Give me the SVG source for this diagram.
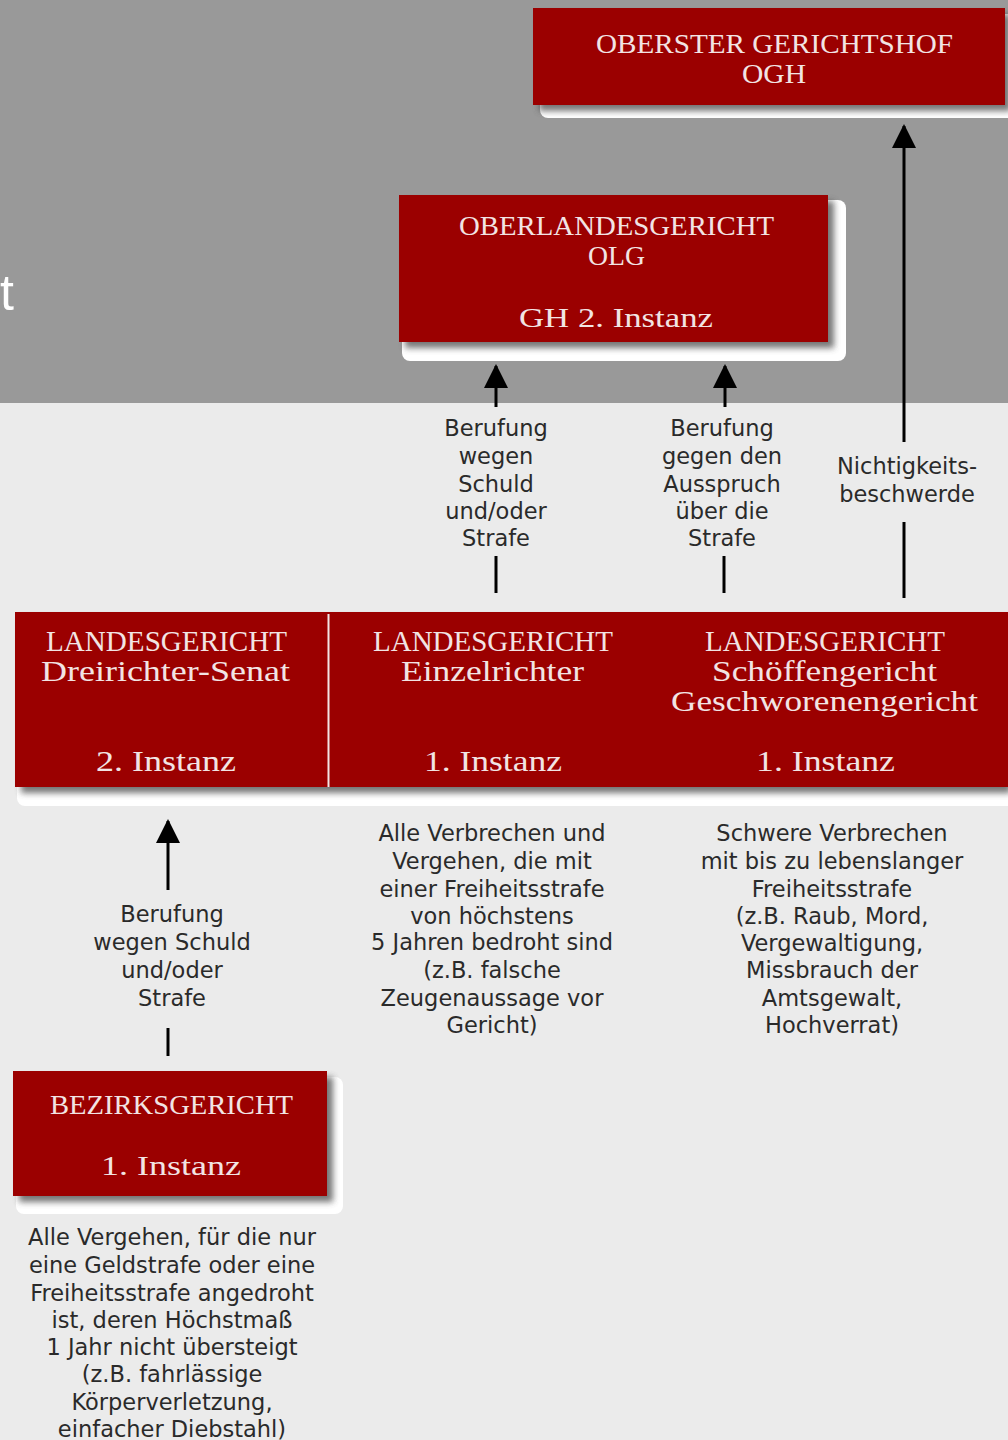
<svg xmlns="http://www.w3.org/2000/svg" width="1008" height="1440" viewBox="0 0 1008 1440">
<style>
.red{fill:#9b0000}
.frame{fill:#ffffff}
.sh{fill:#4a4a4a;opacity:0.75;filter:url(#blur)}
.hd{font-family:"Liberation Serif","Times New Roman",serif;fill:#f2e4e4;text-anchor:middle}
.bt{font-family:"DejaVu Sans",Verdana,sans-serif;font-size:22.5px;fill:#2a2a2a;text-anchor:middle}
.ln{stroke:#000;stroke-width:3;fill:none}
</style>
<defs>
<filter id="blur" x="-10%" y="-20%" width="120%" height="140%"><feGaussianBlur stdDeviation="3"/></filter>
<marker id="ah" viewBox="0 0 24 24" markerWidth="24" markerHeight="24" refX="22" refY="12" orient="auto" markerUnits="userSpaceOnUse"><path d="M0,0 L24,12 L0,24 Z" fill="#000"/></marker>
</defs>
<rect x="0" y="0" width="1008" height="1440" fill="#ebebeb"/>
<rect x="0" y="0" width="1008" height="403" fill="#999999"/>
<text x="0" y="310" font-family="'Liberation Sans',Arial,sans-serif" font-size="50" fill="#ffffff">t</text>

<g id="connectors">
<line class="ln" x1="496" y1="407" x2="496" y2="366" marker-end="url(#ah)"/>
<line class="ln" x1="496" y1="556" x2="496" y2="593"/>
<line class="ln" x1="725" y1="407" x2="725" y2="366" marker-end="url(#ah)"/>
<line class="ln" x1="724" y1="556" x2="724" y2="593"/>
<line class="ln" x1="904" y1="442" x2="904" y2="126" marker-end="url(#ah)"/>
<line class="ln" x1="904" y1="522" x2="904" y2="598"/>
<line class="ln" x1="168" y1="890" x2="168" y2="821" marker-end="url(#ah)"/>
<line class="ln" x1="168" y1="1028" x2="168" y2="1056"/>
</g>

<g id="label-berufung-olg1">
<text class="bt" x="496" y="436">Berufung</text>
<text class="bt" x="496" y="464">wegen</text>
<text class="bt" x="496" y="492">Schuld</text>
<text class="bt" x="496" y="519">und/oder</text>
<text class="bt" x="496" y="546">Strafe</text>
</g>
<g id="label-berufung-olg2">
<text class="bt" x="722" y="436">Berufung</text>
<text class="bt" x="722" y="464">gegen den</text>
<text class="bt" x="722" y="492">Ausspruch</text>
<text class="bt" x="722" y="519">über die</text>
<text class="bt" x="722" y="546">Strafe</text>
</g>
<g id="label-nichtigkeit">
<text class="bt" x="907" y="474">Nichtigkeits-</text>
<text class="bt" x="907" y="502">beschwerde</text>
</g>
<g id="label-berufung-lg">
<text class="bt" x="172" y="922">Berufung</text>
<text class="bt" x="172" y="950">wegen Schuld</text>
<text class="bt" x="172" y="978">und/oder</text>
<text class="bt" x="172" y="1006">Strafe</text>
</g>

<g id="ogh">
<rect class="frame" x="540" y="14" width="480" height="104" rx="8"/>
<rect class="sh" x="539" y="14" width="472" height="97"/>
<rect class="red" x="533" y="8" width="472" height="97"/>
<text class="hd" x="774.5" y="53" font-size="27" textLength="357" lengthAdjust="spacingAndGlyphs">OBERSTER GERICHTSHOF</text>
<text class="hd" x="774" y="83" font-size="27" textLength="64" lengthAdjust="spacingAndGlyphs">OGH</text>
</g>

<g id="olg">
<rect class="frame" x="402" y="200" width="444" height="161" rx="8"/>
<rect class="sh" x="405" y="201" width="429" height="147"/>
<rect class="red" x="399" y="195" width="429" height="147"/>
<text class="hd" x="616.5" y="235" font-size="27" textLength="315" lengthAdjust="spacingAndGlyphs">OBERLANDESGERICHT</text>
<text class="hd" x="616.5" y="265" font-size="27" textLength="57" lengthAdjust="spacingAndGlyphs">OLG</text>
<text class="hd" x="616" y="327" font-size="27" textLength="194" lengthAdjust="spacingAndGlyphs">GH 2. Instanz</text>
</g>

<g id="landesgericht">
<rect class="frame" x="17" y="618" width="1000" height="188" rx="8"/>
<rect class="sh" x="21" y="618" width="990" height="175"/>
<rect class="red" x="15" y="612" width="993" height="175"/>
<line x1="328.5" y1="614" x2="328.5" y2="787" stroke="#f2e4e4" stroke-width="2"/>
<text class="hd" x="166.5" y="651" font-size="30" textLength="241" lengthAdjust="spacingAndGlyphs">LANDESGERICHT</text>
<text class="hd" x="165.5" y="681" font-size="30" textLength="249" lengthAdjust="spacingAndGlyphs">Dreirichter-Senat</text>
<text class="hd" x="166" y="771" font-size="30" textLength="140" lengthAdjust="spacingAndGlyphs">2. Instanz</text>
<text class="hd" x="493" y="651" font-size="30" textLength="240" lengthAdjust="spacingAndGlyphs">LANDESGERICHT</text>
<text class="hd" x="492.5" y="681" font-size="30" textLength="183" lengthAdjust="spacingAndGlyphs">Einzelrichter</text>
<text class="hd" x="493" y="771" font-size="30" textLength="138" lengthAdjust="spacingAndGlyphs">1. Instanz</text>
<text class="hd" x="825" y="651" font-size="30" textLength="240" lengthAdjust="spacingAndGlyphs">LANDESGERICHT</text>
<text class="hd" x="824.5" y="681" font-size="30" textLength="225" lengthAdjust="spacingAndGlyphs">Schöffengericht</text>
<text class="hd" x="824.5" y="711" font-size="30" textLength="307" lengthAdjust="spacingAndGlyphs">Geschworenengericht</text>
<text class="hd" x="825.5" y="771" font-size="30" textLength="139" lengthAdjust="spacingAndGlyphs">1. Instanz</text>
</g>

<g id="desc-einzelrichter">
<text class="bt" x="492" y="841">Alle Verbrechen und</text>
<text class="bt" x="492" y="869">Vergehen, die mit</text>
<text class="bt" x="492" y="897">einer Freiheitsstrafe</text>
<text class="bt" x="492" y="924">von höchstens</text>
<text class="bt" x="492" y="950">5 Jahren bedroht sind</text>
<text class="bt" x="492" y="978">(z.B. falsche</text>
<text class="bt" x="492" y="1006">Zeugenaussage vor</text>
<text class="bt" x="492" y="1033">Gericht)</text>
</g>
<g id="desc-schoeffen">
<text class="bt" x="832" y="841">Schwere Verbrechen</text>
<text class="bt" x="832" y="869">mit bis zu lebenslanger</text>
<text class="bt" x="832" y="897">Freiheitsstrafe</text>
<text class="bt" x="832" y="924">(z.B. Raub, Mord,</text>
<text class="bt" x="832" y="951">Vergewaltigung,</text>
<text class="bt" x="832" y="978">Missbrauch der</text>
<text class="bt" x="832" y="1006">Amtsgewalt,</text>
<text class="bt" x="832" y="1033">Hochverrat)</text>
</g>

<g id="bezirksgericht">
<rect class="frame" x="16" y="1077" width="327" height="137" rx="8"/>
<rect class="sh" x="19" y="1077" width="314" height="125"/>
<rect class="red" x="13" y="1071" width="314" height="125"/>
<text class="hd" x="171.5" y="1114" font-size="28" textLength="243" lengthAdjust="spacingAndGlyphs">BEZIRKSGERICHT</text>
<text class="hd" x="171" y="1175" font-size="28" textLength="140" lengthAdjust="spacingAndGlyphs">1. Instanz</text>
</g>

<g id="desc-bezirk">
<text class="bt" x="172" y="1245">Alle Vergehen, für die nur</text>
<text class="bt" x="172" y="1273">eine Geldstrafe oder eine</text>
<text class="bt" x="172" y="1301">Freiheitsstrafe angedroht</text>
<text class="bt" x="172" y="1328">ist, deren Höchstmaß</text>
<text class="bt" x="172" y="1355">1 Jahr nicht übersteigt</text>
<text class="bt" x="172" y="1382">(z.B. fahrlässige</text>
<text class="bt" x="172" y="1410">Körperverletzung,</text>
<text class="bt" x="172" y="1437">einfacher Diebstahl)</text>
</g>
</svg>
